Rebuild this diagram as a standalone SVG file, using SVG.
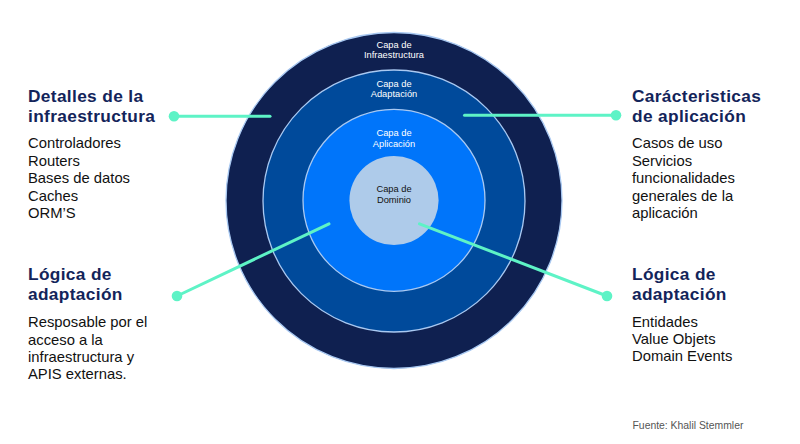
<svg xmlns="http://www.w3.org/2000/svg" width="800" height="444" viewBox="0 0 800 444">
<style>
.ring{stroke:#a9c9f2;stroke-width:1.3}
.lbl{font-family:"Liberation Sans",Arial,sans-serif;font-size:9.3px;fill:#ffffff;text-anchor:middle}
.lbl.dark{fill:#111111}
.h{font-family:"Liberation Sans",Arial,sans-serif;font-weight:bold;font-size:17.3px;letter-spacing:0.35px;fill:#13245a}
.b{font-family:"Liberation Sans",Arial,sans-serif;font-size:14.8px;fill:#111111}
.src{font-family:"Liberation Sans",Arial,sans-serif;font-size:10.4px;fill:#555555}
.con{stroke:#5ef3c6;stroke-width:3;stroke-linecap:round;fill:none}
.dot{fill:#5ef3c6}
</style>
<rect width="800" height="444" fill="#ffffff"/>
<g id="capa-infraestructura">
<circle class="ring" cx="394" cy="200.5" r="168" fill="#0f2050"/>
<text class="lbl" x="394" y="47.7">Capa de</text>
<text class="lbl" x="394" y="58.4">Infraestructura</text>
</g>
<g id="capa-adaptacion">
<circle class="ring" cx="394" cy="201" r="131" fill="#004a9b"/>
<text class="lbl" x="394" y="86.7">Capa de</text>
<text class="lbl" x="394" y="97.4">Adaptación</text>
</g>
<g id="capa-aplicacion">
<circle class="ring" cx="394" cy="200.3" r="91" fill="#0075fa"/>
<text class="lbl" x="394" y="136">Capa de</text>
<text class="lbl" x="394" y="146.7">Aplicación</text>
</g>
<g id="capa-dominio">
<circle cx="394" cy="200.5" r="44.6" fill="#aecbea"/>
<text class="lbl dark" x="394" y="191.7">Capa de</text>
<text class="lbl dark" x="394" y="202.7">Dominio</text>
</g>
<g id="connectors">
<line class="con" x1="270" y1="116.3" x2="174" y2="116.3"/>
<circle class="dot" cx="174" cy="116.3" r="5.3"/>
<line class="con" x1="464.5" y1="115.3" x2="616" y2="115.3"/>
<circle class="dot" cx="616" cy="115.3" r="5.3"/>
<line class="con" x1="329" y1="223.8" x2="177" y2="296"/>
<circle class="dot" cx="177" cy="296" r="5.3"/>
<line class="con" x1="419.5" y1="223.8" x2="607" y2="296"/>
<circle class="dot" cx="607" cy="296" r="5.3"/>
</g>
<g id="detalles-infraestructura">
<text class="h" x="28" y="101.7">Detalles de la</text>
<text class="h" x="28" y="121.7">infraestructura</text>
<text class="b" x="28" y="148.3">Controladores</text>
<text class="b" x="28" y="165.7">Routers</text>
<text class="b" x="28" y="183.1">Bases de datos</text>
<text class="b" x="28" y="200.5">Caches</text>
<text class="b" x="28" y="217.9">ORM’S</text>
</g>
<g id="caracteristicas-aplicacion">
<text class="h" x="632" y="101.7">Carácteristicas</text>
<text class="h" x="632" y="121.7">de aplicación</text>
<text class="b" x="632" y="148.3">Casos de uso</text>
<text class="b" x="632" y="165.7">Servicios</text>
<text class="b" x="632" y="183.1">funcionalidades</text>
<text class="b" x="632" y="200.5">generales de la</text>
<text class="b" x="632" y="217.9">aplicación</text>
</g>
<g id="logica-adaptacion-izq">
<text class="h" x="28" y="280">Lógica de</text>
<text class="h" x="28" y="299.5">adaptación</text>
<text class="b" x="28" y="327.3">Resposable por el</text>
<text class="b" x="28" y="344.5">acceso a la</text>
<text class="b" x="28" y="361.7">infraestructura y</text>
<text class="b" x="28" y="378.9">APIS externas.</text>
</g>
<g id="logica-adaptacion-der">
<text class="h" x="632" y="280">Lógica de</text>
<text class="h" x="632" y="299.5">adaptación</text>
<text class="b" x="632" y="326.8">Entidades</text>
<text class="b" x="632" y="344">Value Objets</text>
<text class="b" x="632" y="361.2">Domain Events</text>
</g>
<g id="fuente">
<text class="src" x="632.5" y="429.3">Fuente: Khalil Stemmler</text>
</g>
</svg>
